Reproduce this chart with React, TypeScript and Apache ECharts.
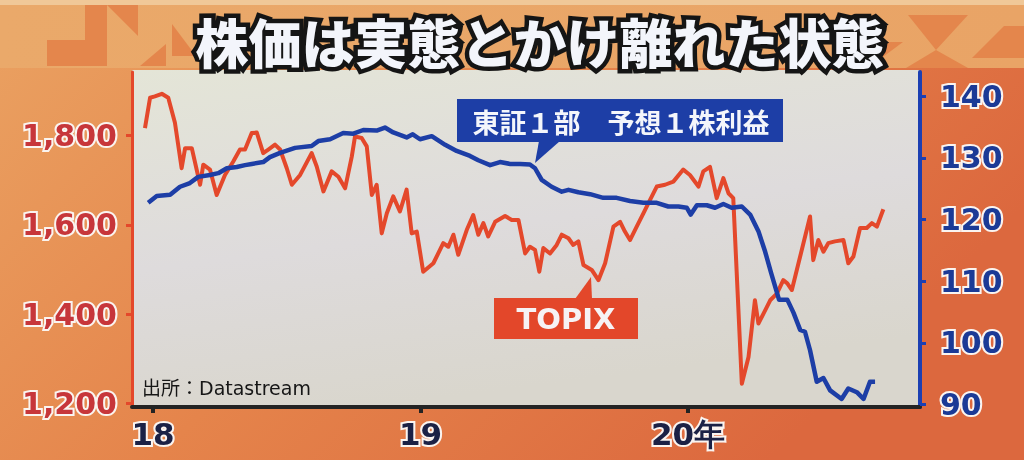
import React, { useEffect, useRef } from 'react';
import * as echarts from 'echarts';

const titleText = '株価は実態とかけ離れた状態';
const epsName = '東証１部　予想１株利益';
const topixName = 'TOPIX';
const sourceText = '出所：Datastream';

const xTickValues = [2018, 2019, 2020];
const xTickLabels = ['18', '19', '20年'];
const leftTickValues = [1200, 1400, 1600, 1800];
const rightTickValues = [90, 100, 110, 120, 130, 140];

// TOPIX (left axis), x in fractional years
const topixX = [
  2017.970, 2017.989, 2018.007, 2018.033, 2018.057, 2018.082, 2018.107, 2018.120, 2018.145, 2018.176,
  2018.188, 2018.213, 2018.238, 2018.269, 2018.300, 2018.325, 2018.344, 2018.369, 2018.388, 2018.412,
  2018.431, 2018.456, 2018.475, 2018.500, 2018.519, 2018.550, 2018.593, 2018.612, 2018.637, 2018.668,
  2018.693, 2018.718, 2018.743, 2018.755, 2018.780, 2018.799, 2018.818, 2018.836, 2018.855, 2018.874,
  2018.898, 2018.923, 2018.948, 2018.967, 2018.986, 2019.010, 2019.048, 2019.085, 2019.104, 2019.123,
  2019.141, 2019.173, 2019.197, 2019.216, 2019.235, 2019.253, 2019.279, 2019.316, 2019.341, 2019.366,
  2019.391, 2019.409, 2019.428, 2019.444, 2019.459, 2019.484, 2019.509, 2019.528, 2019.553, 2019.571,
  2019.590, 2019.609, 2019.640, 2019.665, 2019.690, 2019.721, 2019.746, 2019.764, 2019.783, 2019.808,
  2019.833, 2019.858, 2019.883, 2019.914, 2019.945, 2019.982, 2020.007, 2020.039, 2020.057, 2020.082,
  2020.107, 2020.132, 2020.151, 2020.169, 2020.201, 2020.226, 2020.250, 2020.263, 2020.282, 2020.307,
  2020.332, 2020.356, 2020.371, 2020.388, 2020.419, 2020.456, 2020.468, 2020.487, 2020.506, 2020.524,
  2020.549, 2020.581, 2020.599, 2020.618, 2020.643, 2020.668, 2020.687, 2020.706, 2020.730,
];
const topixY = [
  1817, 1885, 1888, 1894, 1885, 1829, 1727, 1772, 1772, 1690,
  1735, 1724, 1667, 1712, 1742, 1769, 1769, 1806, 1807, 1761,
  1769, 1780, 1769, 1727, 1690, 1712, 1761, 1731, 1675, 1720,
  1708, 1682, 1753, 1798, 1795, 1776, 1667, 1690, 1581, 1626,
  1664, 1630, 1679, 1581, 1585, 1495, 1514, 1559, 1551, 1578,
  1533, 1589, 1622, 1578, 1604, 1574, 1607, 1620, 1611, 1611,
  1536, 1551, 1544, 1495, 1548, 1536, 1555, 1578, 1570, 1555,
  1563, 1510, 1499, 1476, 1514, 1596, 1607, 1585, 1566, 1596,
  1626, 1656, 1686, 1690, 1697, 1724, 1712, 1686, 1720, 1730,
  1660, 1705, 1671, 1660, 1244, 1304, 1431, 1379, 1401, 1431,
  1446, 1476, 1469, 1454, 1529, 1619, 1521, 1566, 1540, 1559,
  1563, 1566, 1514, 1529, 1593, 1593, 1604, 1596, 1635,
];

// 東証1部 予想1株利益 (right axis)
const epsX = [
  2017.982, 2018.014, 2018.064, 2018.101, 2018.138, 2018.169, 2018.213, 2018.244, 2018.276, 2018.313,
  2018.344, 2018.369, 2018.412, 2018.437, 2018.475, 2018.531, 2018.593, 2018.618, 2018.662, 2018.711,
  2018.749, 2018.786, 2018.836, 2018.867, 2018.898, 2018.948, 2018.971, 2018.998, 2019.042, 2019.092,
  2019.135, 2019.185, 2019.216, 2019.260, 2019.297, 2019.335, 2019.372, 2019.409, 2019.428, 2019.453,
  2019.490, 2019.528, 2019.553, 2019.590, 2019.634, 2019.683, 2019.733, 2019.783, 2019.833, 2019.883,
  2019.926, 2019.964, 2019.995, 2020.010, 2020.033, 2020.070, 2020.101, 2020.132, 2020.163, 2020.201,
  2020.232, 2020.263, 2020.288, 2020.310, 2020.340, 2020.371, 2020.394, 2020.419, 2020.437, 2020.456,
  2020.481, 2020.506, 2020.531, 2020.574, 2020.599, 2020.631, 2020.656, 2020.680, 2020.699,
];
const epsY = [
  122.7, 123.8, 124.0, 125.3, 125.9, 126.9, 127.2, 127.5, 128.3, 128.5,
  128.8, 129.0, 129.3, 130.1, 130.8, 131.6, 131.9, 132.7, 133.0, 134.0,
  133.9, 134.5, 134.4, 134.9, 134.1, 133.3, 133.8, 133.0, 133.5, 132.1,
  131.1, 130.3, 129.6, 128.8, 129.3, 129.0, 129.0, 128.9, 128.3, 126.4,
  125.3, 124.5, 124.8, 124.4, 124.1, 123.5, 123.5, 123.0, 122.7, 122.7,
  122.1, 122.1, 121.9, 120.8, 122.3, 122.3, 121.9, 122.5, 121.9, 122.1,
  120.8, 118.1, 114.8, 111.4, 107.0, 107.0, 104.9, 102.1, 101.8, 98.8,
  93.7, 94.3, 92.3, 90.9, 92.6, 92.0, 90.9, 93.7, 93.7,
];

const RED = '#e4482b';
const BLUE = '#1d3ea6';
const NUM_FONT = "'DejaVu Sans', sans-serif";
const JP_FONT = "'Noto Sans CJK JP', sans-serif";

function buildOption() {
  const headerPattern = [
    [[47, 40], [85, 40], [85, 66], [47, 66]],
    [[85, 5], [107, 5], [107, 66], [85, 66]],
    [[107, 5], [138, 5], [138, 36]],
    [[140, 66], [166, 44], [166, 66]],
    [[172, 24], [196, 56], [172, 56]],
    [[868, 42], [903, 42], [868, 68]],
    [[908, 15], [968, 15], [936, 50]],
    [[936, 50], [906, 68], [968, 68]],
    [[972, 58], [1004, 26], [1024, 26], [1024, 58]],
  ];
  const graphic: any[] = [
    {
      type: 'rect', z: -20, silent: true,
      shape: { x: 0, y: 0, width: 1024, height: 460 },
      style: {
        fill: new echarts.graphic.LinearGradient(0, 0, 1, 0.45, [
          { offset: 0, color: '#eaa262' },
          { offset: 0.5, color: '#e5844b' },
          { offset: 1, color: '#dc683e' },
        ]),
      },
    },
    {
      type: 'rect', z: -19, silent: true,
      shape: { x: 0, y: 0, width: 1024, height: 68 },
      style: {
        fill: new echarts.graphic.LinearGradient(0, 0, 1, 0, [
          { offset: 0, color: '#eaa96a' },
          { offset: 1, color: '#e9a466' },
        ]),
      },
    },
    {
      type: 'rect', z: -18, silent: true,
      shape: { x: 0, y: 0, width: 1024, height: 5 },
      style: { fill: '#f0c898' },
    },
    ...headerPattern.map((pts) => ({
      type: 'polygon', z: -17, silent: true,
      shape: { points: pts },
      style: { fill: '#e4864c' },
    })),
    {
      type: 'rect', z: -16, silent: true,
      shape: { x: 132, y: 70, width: 788, height: 337 },
      style: {
        fill: new echarts.graphic.LinearGradient(0, 0, 0.3, 1, [
          { offset: 0, color: '#e4e5d7' },
          { offset: 0.55, color: '#dedbdc' },
          { offset: 1, color: '#d9d6cd' },
        ]),
      },
    },
    // title (outline then fill)
    {
      type: 'text', z: 30, silent: true,
      style: {
        x: 540, y: 41, text: titleText, align: 'center', verticalAlign: 'middle',
        font: `900 53px ${JP_FONT}`, fill: '#151515', stroke: '#151515', lineWidth: 9,
      },
    },
    {
      type: 'text', z: 31, silent: true,
      style: {
        x: 540, y: 41, text: titleText, align: 'center', verticalAlign: 'middle',
        font: `900 53px ${JP_FONT}`, fill: '#f3f5fb',
      },
    },
    // EPS callout
    {
      type: 'rect', z: 20, silent: true,
      shape: { x: 457, y: 99, width: 326, height: 43 },
      style: { fill: BLUE },
    },
    {
      type: 'polygon', z: 20, silent: true,
      shape: { points: [[539, 141], [560, 141], [535, 163]] },
      style: { fill: BLUE },
    },
    {
      type: 'text', z: 21, silent: true,
      style: {
        x: 621, y: 121, text: epsName, align: 'center', verticalAlign: 'middle',
        font: `bold 27px ${JP_FONT}`, fill: '#f4f6fb',
      },
    },
    // TOPIX callout
    {
      type: 'rect', z: 20, silent: true,
      shape: { x: 494, y: 298, width: 144, height: 41 },
      style: { fill: '#e3472a' },
    },
    {
      type: 'polygon', z: 20, silent: true,
      shape: { points: [[575, 299], [592, 299], [591, 277]] },
      style: { fill: '#e3472a' },
    },
    {
      type: 'text', z: 21, silent: true,
      style: {
        x: 566, y: 319, text: topixName, align: 'center', verticalAlign: 'middle',
        font: `bold 29px ${NUM_FONT}`, fill: '#f6f2f4',
      },
    },
    // source
    {
      type: 'text', z: 21, silent: true,
      style: {
        x: 142, y: 388, text: sourceText, align: 'left', verticalAlign: 'middle',
        font: `19px 'DejaVu Sans', 'Noto Sans CJK JP', sans-serif`, fill: '#161616',
      },
    },
  ];

  const labelBase = {
    fontFamily: NUM_FONT,
    fontWeight: 'bold' as const,
    fontSize: 30,
    textBorderColor: '#faf4f0',
    textBorderWidth: 4,
  };

  return {
    animation: false,
    backgroundColor: 'transparent',
    graphic,
    grid: { left: 132, right: 104, top: 72, bottom: 53, containLabel: false },
    xAxis: {
      type: 'value',
      min: 2017.9215,
      max: 2020.867,
      axisLine: { show: true, onZero: false, lineStyle: { color: '#232323', width: 4 } },
      axisTick: {
        show: true, customValues: xTickValues, length: 6,
        lineStyle: { color: '#232323', width: 4 },
      },
      splitLine: { show: false },
      axisLabel: {
        ...labelBase,
        fontSize: 31,
        color: '#1b2145',
        margin: 11,
        customValues: xTickValues,
        formatter: (v: number) => {
          const i = xTickValues.indexOf(Math.round(v));
          return i >= 0 ? xTickLabels[i] : '';
        },
      },
    },
    yAxis: [
      {
        type: 'value',
        position: 'left',
        min: 1191.7,
        max: 1942.8,
        axisLine: { show: true, lineStyle: { color: RED, width: 3 } },
        axisTick: {
          show: true, customValues: leftTickValues, length: 6,
          lineStyle: { color: RED, width: 3 },
        },
        splitLine: { show: false },
        axisLabel: {
          ...labelBase,
          color: '#c7363a',
          margin: 15,
          customValues: leftTickValues,
          formatter: (v: number) => Math.round(v).toLocaleString('en-US'),
        },
      },
      {
        type: 'value',
        position: 'right',
        min: 89.6,
        max: 143.9,
        axisLine: { show: true, lineStyle: { color: '#1c3fb2', width: 4 } },
        axisTick: {
          show: true, customValues: rightTickValues, length: 6,
          lineStyle: { color: '#1c3fb2', width: 3 },
        },
        splitLine: { show: false },
        axisLabel: {
          ...labelBase,
          color: '#1b3a96',
          margin: 20,
          customValues: rightTickValues,
          formatter: (v: number) => String(Math.round(v)),
        },
      },
    ],
    series: [
      {
        name: topixName,
        type: 'line',
        yAxisIndex: 0,
        data: topixX.map((x, i) => [x, topixY[i]]),
        showSymbol: false,
        symbol: 'none',
        lineStyle: { color: RED, width: 4, join: 'round' },
        z: 3,
      },
      {
        name: epsName,
        type: 'line',
        yAxisIndex: 1,
        data: epsX.map((x, i) => [x, epsY[i]]),
        showSymbol: false,
        symbol: 'none',
        lineStyle: { color: BLUE, width: 4.5, join: 'round' },
        z: 4,
      },
    ],
  };
}

export default function App() {
  const ref = useRef<HTMLDivElement>(null);
  useEffect(() => {
    if (!ref.current) return;
    const chart = echarts.init(ref.current, null, { renderer: 'svg' });
    chart.setOption(buildOption() as any);
    return () => chart.dispose();
  }, []);
  return (
    <div
      ref={ref}
      style={{ position: 'fixed', left: 0, top: 0, width: 1024, height: 460 }}
    />
  );
}
